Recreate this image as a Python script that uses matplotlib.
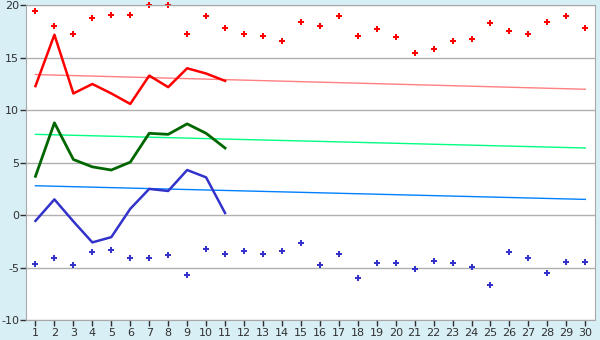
import numpy as np
import matplotlib
matplotlib.use("Agg")
import matplotlib.pyplot as plt

plt.rcParams['axes.unicode_minus'] = False

days = np.arange(1, 31)

red_pts = [19.5, 18.0, 17.3, 18.8, 19.1, 19.1, 20.0, 20.0, 17.3, 19.0,
           17.8, 17.3, 17.1, 16.6, 18.4, 18.0, 19.0, 17.1, 17.7, 17.0,
           15.5, 15.8, 16.6, 16.8, 18.3, 17.6, 17.3, 18.4, 19.0, 17.8]
blue_pts = [-4.7, -4.1, -4.8, -3.5, -3.3, -4.1, -4.1, -3.8, -5.7, -3.2,
            -3.7, -3.4, -3.7, -3.4, -2.7, -4.8, -3.7, -6.0, -4.6, -4.6,
            -5.1, -4.4, -4.6, -4.9, -6.7, -3.5, -4.1, -5.5, -4.5, -4.5]

line_days = np.arange(1, 12)
red_line = [12.3, 17.2, 11.6, 12.5, 11.6, 10.6, 13.3, 12.2, 14.0, 13.5, 12.8]
green_line = [3.7, 8.8, 5.3, 4.6, 4.3, 5.05, 7.8, 7.7, 8.7, 7.8, 6.4]
blue_line = [-0.55, 1.5, -0.6, -2.6, -2.1, 0.6, 2.5, 2.3, 4.3, 3.6, 0.2]

# trend lines: value at day 1 and at day 30
red_trend = [13.4, 12.0]
green_trend = [7.7, 6.4]
blue_trend = [2.8, 1.5]

fig = plt.figure(figsize=(6, 3.4), dpi=100, facecolor='#d9eff6')
ax = fig.add_axes([0.0433, 0.0588, 0.948, 0.9255])
ax.set_facecolor('white')

ax.set_xlim(0.5, 30.5)
ax.set_ylim(-10, 20)
ax.set_yticks([-10, -5, 0, 5, 10, 15, 20])
ax.set_xticks(days)
ax.grid(axis='y', color='#b0b0b0', linewidth=1)
ax.set_axisbelow(True)
for s in ax.spines.values():
    s.set_color('#a8a8a8')
ax.tick_params(colors='#303030', labelsize=8, length=4, width=1, pad=2)
ax.tick_params(axis='y', pad=1)

ax.plot([1, 30], red_trend, color='#ff8080', lw=1)
ax.plot([1, 30], green_trend, color='#00ff80', lw=1)
ax.plot([1, 30], blue_trend, color='#0080ff', lw=1)

ax.plot(line_days, red_line, color='#ff0000', lw=1.8)
ax.plot(line_days, green_line, color='#006600', lw=2)
ax.plot(line_days, blue_line, color='#3333cc', lw=1.8)

ax.scatter(days, red_pts, marker='P', s=18, color='#ff0000', linewidths=0, clip_on=False)
ax.scatter(days, blue_pts, marker='P', s=14, color='#3333cc', linewidths=0)

fig.savefig('out.png', dpi=100, facecolor=fig.get_facecolor())
